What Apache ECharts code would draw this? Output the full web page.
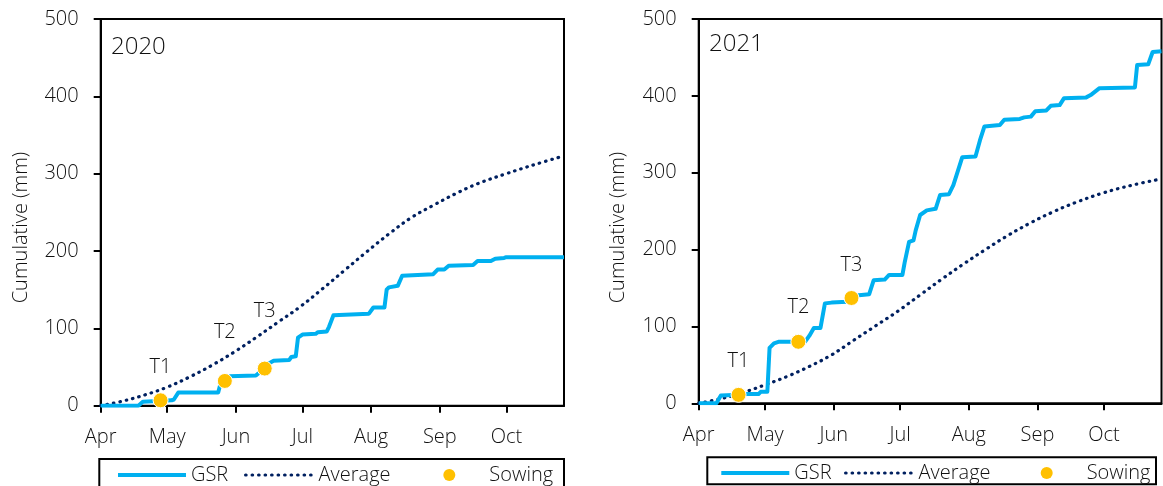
<!DOCTYPE html>
<html><head><meta charset="utf-8">
<script src="https://cdn.jsdelivr.net/npm/echarts@6/dist/echarts.min.js"></script>
<style>html,body{margin:0;padding:0;background:#fff}#c{width:1163px;height:486px}</style>
</head><body><div id="c"></div>
<script>
// ---------- data ----------
const monthLabels = ['Apr','May','Jun','Jul','Aug','Sep','Oct'];
const monthStartDays = [0,30,61,91,122,153,183];   // days since 1 Apr
const lastDay = 209;                                // ~27 Oct
const yMin = 0, yMax = 500, yStep = 100;
const years = ['2020','2021'];
const seriesNames = ['GSR','Average','Sowing'];
const axisTitle = 'Cumulative (mm)';
const sowingLabels = ['T1','T2','T3'];

const gsr2020 = [[0,0],[17,0],[19,5],[26,6],[32,7],[33,8],[35,17],[53,17],[54,28],[56,32],[58,38],[70,39],[72,44],[74,48],[76,55],[78,58],[85,59],[86,63],[88,64],[89,88],[91,92],[97,93],[98,95],[102,96],[103,102],[105,117],[121,119],[123,127],[128,127],[129,150],[130,153],[134,155],[136,168],[150,170],[152,176],[155,176],[157,181],[168,182],[170,187],[176,187],[178,190],[182,191],[183,192],[209,192]];
const avg2020 = [[0,0],[10,6],[20,14],[30,24],[40,37],[50,52],[60,69],[70,88],[80,108],[90,128],[100,151],[110,175],[120,199],[130,222],[140,243],[150,259],[160,274],[170,287],[183,300],[196,312],[209,323]];
const sowing2020 = [[27,7],[56,32],[74,48]];

const gsr2021 = [[0,0],[8,0],[10,10],[18,11],[22,12],[27,12],[28,15],[31,15],[32,72],[34,78],[36,80],[48,80],[50,88],[52,98],[55,98],[57,130],[60,131],[67,132],[70,140],[77,142],[79,160],[84,161],[86,167],[92,167],[93,183],[95,210],[97,212],[98,225],[100,245],[103,251],[107,253],[109,271],[113,272],[115,284],[119,320],[125,321],[127,342],[129,360],[136,362],[138,369],[145,370],[147,372],[150,373],[152,380],[157,381],[159,387],[163,388],[165,397],[175,398],[177,401],[181,410],[197,411],[198,440],[203,441],[205,457],[209,458]];
const avg2021 = [[0,0],[10,6],[20,14],[30,24],[40,35],[50,48],[60,63],[70,82],[80,101],[90,120],[100,141],[110,162],[120,182],[130,201],[140,219],[150,235],[160,249],[170,261],[183,274],[196,284],[209,292]];
const sowing2021 = [[18,11],[45,80],[69,137]];

// ---------- styling / layout ----------
const FONT = 'Open Sans';
const FW = 300;
const TXT = '#111';
const C_GSR = '#00B0F0', C_AVG = '#002060', C_SOW = '#FFC000';
const grids = [
  {left: 100.7, top: 19, width: 463.3, height: 386.7},
  {left: 698.7, top: 19, width: 462.8, height: 384.3}
];
const labelLift = [[33,49,57],[34,35,33]];
const yearPos = [[111,51],[709,48.5]];
const titlePos = [[21,227.5],[618,227.5]];
const legendTop = [465,463];
const legendLefts = [[116,244,443.3],[719.3,844,1040.7]];
const legendBox = [[99.3,459,464.7,40],[707.3,457.3,448.7,27]];

const categories = Array.from({length: lastDay + 1}, (_, i) => i);
const isMonth = (i) => monthStartDays.indexOf(i) >= 0;

const sets = [
  {gsr: gsr2020, avg: avg2020, sow: sowing2020},
  {gsr: gsr2021, avg: avg2021, sow: sowing2021}
];
const avgLine = {color: C_AVG, width: 3.2, type: [0.5, 6], cap: 'round'};
const gsrLine = {color: C_GSR, width: 4, join: 'round'};

const option = {
  animation: false,
  textStyle: {fontFamily: FONT, fontWeight: FW, color: TXT},
  grid: grids.map(g => Object.assign({show: true, borderColor: '#000', borderWidth: 2, containLabel: false}, g)),
  xAxis: grids.map((g, k) => ({
    type: 'category', gridIndex: k, data: categories, boundaryGap: false,
    axisLine: {show: true, lineStyle: {color: '#000', width: 2}},
    axisTick: {show: true, length: 7, interval: (i) => isMonth(i), lineStyle: {color: '#000', width: 2}},
    axisLabel: {show: true, interval: (i) => isMonth(i), margin: 22, fontSize: 20, fontFamily: FONT, fontWeight: FW, color: TXT,
      formatter: (v) => monthLabels[monthStartDays.indexOf(Number(v))] || ''},
    splitLine: {show: false}
  })),
  yAxis: grids.map((g, k) => ({
    type: 'value', gridIndex: k, min: yMin, max: yMax, interval: yStep,
    axisLine: {show: true, lineStyle: {color: '#000', width: 2}},
    axisTick: {show: true, length: 7, lineStyle: {color: '#000', width: 2}},
    axisLabel: {margin: 22, fontSize: 20, fontFamily: FONT, fontWeight: FW, color: TXT},
    splitLine: {show: false}
  })),
  legend: [],
  graphic: [],
  series: []
};

sets.forEach((s, k) => {
  option.series.push({
    name: seriesNames[1], type: 'line', xAxisIndex: k, yAxisIndex: k, data: s.avg,
    smooth: 0.4, symbol: 'none', z: 2, lineStyle: avgLine, itemStyle: {color: C_AVG}
  });
  option.series.push({
    name: seriesNames[0], type: 'line', xAxisIndex: k, yAxisIndex: k, data: s.gsr,
    symbol: 'none', z: 3, lineStyle: gsrLine, itemStyle: {color: C_GSR}
  });
  option.series.push({
    name: seriesNames[2], type: 'scatter', xAxisIndex: k, yAxisIndex: k, z: 5,
    symbol: 'circle', symbolSize: 15,
    itemStyle: {color: C_SOW, borderColor: '#fff', borderWidth: 1, opacity: 1},
    data: s.sow.map((p, j) => ({
      value: p,
      label: {show: true, formatter: sowingLabels[j], position: 'inside', offset: [0, -labelLift[k][j]],
        fontSize: 20, fontFamily: FONT, fontWeight: FW, color: TXT}
    }))
  });
  seriesNames.forEach((nm, j) => {
    const lg = {
      data: [nm], left: legendLefts[k][j], top: legendTop[k], padding: 0, orient: 'horizontal',
      itemWidth: 68, itemHeight: 14, itemGap: 5, selectedMode: false,
      textStyle: {fontSize: 20, fontFamily: FONT, fontWeight: FW, color: TXT}
    };
    if (j === 0) { lg.itemStyle = {opacity: 0}; lg.lineStyle = Object.assign({}, gsrLine, {opacity: 1}); }
    if (j === 1) { lg.itemStyle = {opacity: 0}; lg.lineStyle = Object.assign({}, avgLine, {opacity: 1}); }
    if (j === 2) {
      lg.icon = 'circle'; lg.itemWidth = 12; lg.itemHeight = 12;
      lg.itemStyle = {color: C_SOW, borderWidth: 0};
      lg.textStyle.padding = [0, 0, 0, 29];
    }
    option.legend.push(lg);
  });
  const b = legendBox[k];
  option.graphic.push({type: 'rect', shape: {x: b[0], y: b[1], width: b[2], height: b[3]},
    style: {fill: 'none', stroke: '#000', lineWidth: 2}, silent: true, z: 0});
  option.graphic.push({type: 'text', left: yearPos[k][0], top: yearPos[k][1] - 16,
    style: {text: years[k], fontSize: 24, fontFamily: FONT, fontWeight: FW, fill: TXT}});
  option.graphic.push({type: 'text', x: titlePos[k][0], y: titlePos[k][1], rotation: Math.PI / 2,
    style: {text: axisTitle, fontSize: 20, fontFamily: FONT, fontWeight: FW, fill: TXT, align: 'center', verticalAlign: 'middle'}});
});

const chart = echarts.init(document.getElementById('c'), null, {renderer: 'canvas'});
chart.setOption(option);
</script></body></html>
